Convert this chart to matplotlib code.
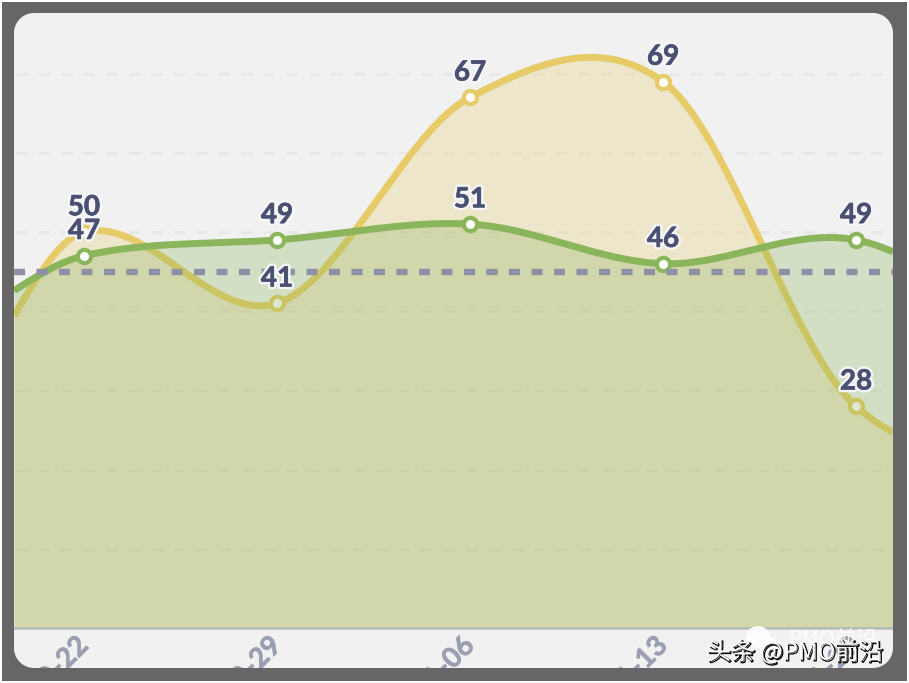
import numpy as np
import matplotlib
matplotlib.use("Agg")
import matplotlib.pyplot as plt
import matplotlib.patheffects as pe
from matplotlib.patches import Rectangle, Ellipse, PathPatch
from matplotlib.path import Path
from matplotlib.transforms import Affine2D

W, H = 909, 683
# Data
tick_labels = ["10-22", "10-29", "11-06", "11-13", "11-20"]
positions = [-0.6, 0, 1, 2, 3, 4, 5]          # first and last lie outside the visible window
yellow_values = [30.5, 50, 41, 67, 69, 28, 20.2]
green_values = [39.2, 47, 49, 51, 46, 49, 35.7]
yellow_labels = [50, 41, 67, 69, 28]
green_labels = [47, 49, 51, 46, 49]
reference_value = 45
grid_values = [10, 20, 30, 40, 50, 60, 70]

YELLOW = "#e6cb68"
GREEN = "#8ab55a"
INK = "#4a5072"
GRAY = "#666666"
TENSION = 0.9


def smooth_curve(x, y, xs):
    x = np.asarray(x, float)
    y = np.asarray(y, float)
    m = np.zeros_like(y)
    m[1:-1] = (y[2:] - y[:-2]) / (x[2:] - x[:-2])
    m[0] = (y[1] - y[0]) / (x[1] - x[0])
    m[-1] = (y[-1] - y[-2]) / (x[-1] - x[-2])
    m *= TENSION
    idx = np.clip(np.searchsorted(x, xs) - 1, 0, len(x) - 2)
    h = x[idx + 1] - x[idx]
    t = (xs - x[idx]) / h
    return ((2 * t**3 - 3 * t**2 + 1) * y[idx] + (t**3 - 2 * t**2 + t) * h * m[idx]
            + (-2 * t**3 + 3 * t**2) * y[idx + 1] + (t**3 - t**2) * h * m[idx + 1])


def rounded_rect(x0, y0, x1, y1, r):
    pts = []
    for cx, cy, a0 in [(x1 - r, y0 + r, -90), (x1 - r, y1 - r, 0), (x0 + r, y1 - r, 90), (x0 + r, y0 + r, 180)]:
        ang = np.radians(np.linspace(a0, a0 + 90, 16))
        pts.extend(zip(cx + r * np.cos(ang), cy + r * np.sin(ang)))
    pts.append(pts[0])
    return np.array(pts)


def rect_path(x0, y0, x1, y1):
    return Path([(x0, y0), (x1, y0), (x1, y1), (x0, y1), (x0, y0)])


fig = plt.figure(figsize=(W / 100, H / 100), dpi=100, facecolor="white")
px = Affine2D().scale(1 / W, 1 / H) + fig.transFigure

# panel background, below the axes
fig.add_artist(Rectangle((14, H - 669), 880, 657, transform=px, facecolor="#f1f1f1", edgecolor="none", zorder=-4))

# axes window in pixels: x 14..893, y 13..628
ax = fig.add_axes([14 / W, 1 - 628 / H, 879 / W, 615 / H])
ax.set_zorder(0)
ax.patch.set_alpha(0)
ax.set_xlim(-70 / 193, 4 + 37 / 193)
ax.set_ylim(0, 615 / 7.92)
for s in ["top", "left", "right"]:
    ax.spines[s].set_visible(False)
ax.spines["bottom"].set_color("#b9bbca")
ax.spines["bottom"].set_linewidth(1.8)
ax.set_yticks([])

xs = np.linspace(-70 / 193, 4 + 37 / 193, 600)
ys_y = smooth_curve(positions, yellow_values, xs)
ys_g = smooth_curve(positions, green_values, xs)
vis = range(1, 6)

for v in grid_values:
    ax.plot([-70 / 193 + 2 / 193, 4 + 30 / 193], [v, v], color="#e7e7e7", lw=2,
            dashes=(11 * 0.72 / 2, 11.5 * 0.72 / 2), zorder=1, dash_capstyle="butt")

ax.fill_between(xs, 0, ys_y, color=YELLOW, alpha=0.27, lw=0, zorder=2)
ax.plot(xs, ys_y, color=YELLOW, lw=5, zorder=3, solid_capstyle="butt")
ax.plot([positions[i] for i in vis], [yellow_values[i] for i in vis], "o", ms=9.5, mfc="white",
        mec=YELLOW, mew=3, zorder=3.1)
ax.fill_between(xs, 0, ys_g, color=GREEN, alpha=0.29, lw=0, zorder=4)
ax.plot(xs, ys_g, color=GREEN, lw=5, zorder=5, solid_capstyle="butt")
ax.plot([positions[i] for i in vis], [green_values[i] for i in vis], "o", ms=9.5, mfc="white",
        mec=GREEN, mew=3, zorder=5.1)
ax.plot(ax.get_xlim(), [reference_value, reference_value], color="#8e90a5", lw=4.6,
        dashes=(11 * 0.72 / 4.6, 11.5 * 0.72 / 4.6), zorder=6, dash_capstyle="butt")

effects = [pe.Stroke(linewidth=4, foreground="#f6f6f8"), pe.Stroke(linewidth=0.5, foreground=INK), pe.Normal()]
label_font = dict(family="Lato", weight="bold", fontsize=20, color=INK, ha="center", va="bottom",
                  path_effects=effects, zorder=8)
for p, yv, gv, yl, gl in zip(positions[1:6], yellow_values[1:6], green_values[1:6], yellow_labels, green_labels):
    ax.annotate(str(yl), (p, yv), xytext=(0, 8.5), textcoords="offset points", **label_font)
    ax.annotate(str(gl), (p, gv), xytext=(0, 8.5), textcoords="offset points", **label_font)

ax.set_xticks(positions[1:6])
ax.set_xticklabels(tick_labels)
ax.tick_params(axis="x", length=0, pad=3)
for t in ax.get_xticklabels():
    t.set(family="Lato", weight="bold", fontsize=20, color="#9a9fb2", rotation=45, ha="right",
          rotation_mode="anchor", va="top",
          path_effects=[pe.Stroke(linewidth=0.5, foreground="#9a9fb2"), pe.Normal()])
    t.set_transform(t.get_transform() + Affine2D().translate(-9, 0))

# Grey frame with a rounded opening, then the white image margin: both cut the tick labels
inner = Path(rounded_rect(14, H - 668, 893, H - 13, 20)[::-1])
frame = PathPatch(Path.make_compound_path(rect_path(2, H - 681, 907, H - 2), inner), transform=px,
                  facecolor=GRAY, edgecolor="none", zorder=2)
fig.add_artist(frame)
margin_hole = Path(rect_path(2, H - 681, 907, H - 2).vertices[::-1])
margin = PathPatch(Path.make_compound_path(rect_path(-2, -2, W + 2, H + 2), margin_hole), transform=px,
                   facecolor="white", edgecolor="none", zorder=2.5)
fig.add_artist(margin)

# Watermark
icon = [(758, 637, 12, 11), (771, 648, 11, 10)]
for cx, cy, a, b in icon:
    fig.add_artist(Ellipse((cx, H - cy), 2 * a, 2 * b, transform=px, facecolor="white", edgecolor="none",
                           alpha=0.9, zorder=3))
fig.text(789 / W, 1 - 641 / H, "PMO前沿", family=["Noto Sans CJK SC", "DejaVu Sans"], fontsize=15.5,
         color="white", alpha=0.8, va="center", ha="left", zorder=3)
fig.text(707 / W, 1 - 652 / H, "头条 @PMO前沿", family=["Noto Sans CJK SC", "DejaVu Sans"], fontsize=17.2,
         color="white", va="center", ha="left", zorder=4,
         path_effects=[pe.Stroke(offset=(1, -1), linewidth=0.9, foreground="black"), pe.Normal()])

fig.savefig("out.png", dpi=100)
